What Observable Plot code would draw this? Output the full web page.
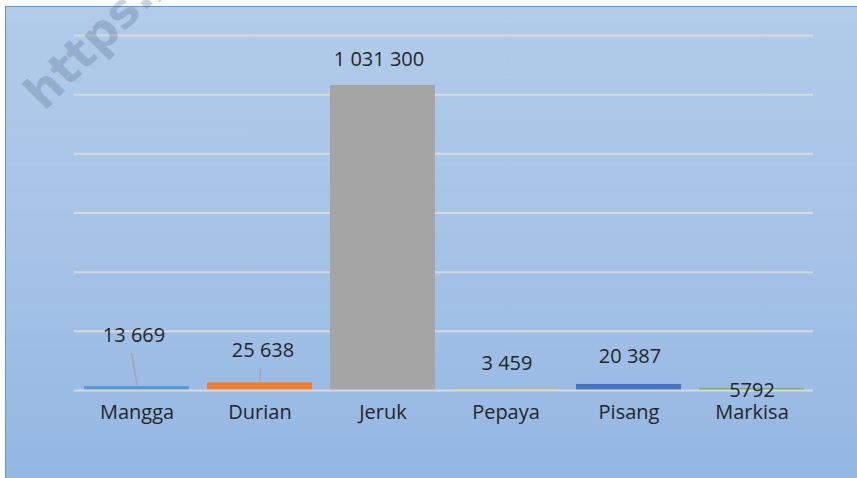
<!DOCTYPE html>
<html>
<head>
<meta charset="utf-8">
<script src="https://cdn.jsdelivr.net/npm/d3@7"></script>
<script src="https://cdn.jsdelivr.net/npm/@observablehq/plot@0.6"></script>
<style>
  html, body { margin: 0; padding: 0; background: #ffffff; }
  #wrap { position: relative; width: 857px; height: 478px; overflow: hidden; }
  #bg { position: absolute; left: 5px; top: 6px; right: 0; bottom: 0;
        border-left: 1px solid #5B9BD5; border-top: 1px solid #5B9BD5;
        background: linear-gradient(to bottom, #B1CBE9 0%, #A6C3E7 50%, #93B7E2 100%); }
  #chart { position: absolute; left: 0; top: 0; }
  #wm { position: absolute; left: 0; top: 0; pointer-events: none; }
</style>
</head>
<body>
<div id="wrap">
  <div id="bg"></div>
  <div id="chart"></div>
  <svg id="wm" width="857" height="478">
    <text x="44" y="112" transform="rotate(-45 44 112)" font-family="DejaVu Sans, sans-serif"
          font-weight="bold" font-size="47" fill="rgba(95,115,145,0.33)">https://...</text>
  </svg>
</div>
<script>
// ---- data ----
const categories = ["Mangga", "Durian", "Jeruk", "Pepaya", "Pisang", "Markisa"];
const values = [13669, 25638, 1031300, 3459, 20387, 5792];
const valueLabels = ["13 669", "25 638", "1 031 300", "3 459", "20 387", "5792"];
const barColors = ["#5B9BD5", "#ED7D31", "#A5A5A5", "#FFC000", "#4472C4", "#70AD47"];
const yTicks = [0, 200000, 400000, 600000, 800000, 1000000, 1200000];

// ---- label styling (manually moved data labels) ----
const labelDy = [-51, -32, -26, -26, -28, 2];
const labelDx = [-3, 3, -4, 1, 1, 0];
const leaderFor = ["Mangga", "Durian"];

const data = categories.map((c, i) => ({cat: c, value: values[i], label: valueLabels[i], color: barColors[i]}));

const textMarks = data.map((d, i) =>
  Plot.text([d], {x: "cat", y: "value", text: "label", dy: labelDy[i], dx: labelDx[i],
    fill: "#262626", fontSize: 20})
);

const plot = Plot.plot({
  width: 857,
  height: 478,
  marginLeft: 74,
  marginRight: 44,
  marginTop: 35,
  marginBottom: 88,
  style: {background: "transparent", fontFamily: "'Open Sans', sans-serif", fontSize: "20px", color: "#262626", overflow: "visible"},
  x: {domain: categories, paddingInner: 0.15, paddingOuter: 0.075, label: null, tickSize: 0, tickPadding: 14},
  y: {domain: [0, 1200000], axis: null},
  color: {type: "identity"},
  marks: [
    Plot.ruleY(yTicks.filter(t => t > 0), {stroke: "#D9D9D9", strokeWidth: 2}),
    Plot.barY(data, {x: "cat", y: "value", fill: "color"}),
    Plot.ruleY([0], {stroke: "#D9D9D9", strokeWidth: 2}),
    ...textMarks
  ]
});

document.getElementById("chart").appendChild(plot);

// leader lines from moved labels to their bars, positioned through Plot's scales
const xs = plot.scale("x");
const ys = plot.scale("y");
const svg = d3.select(plot.tagName.toLowerCase() === "svg" ? plot : plot.querySelector("svg"));
const g = svg.append("g").attr("stroke", "#A6A6A6").attr("stroke-width", 1.5);
data.forEach((d, i) => {
  if (!leaderFor.includes(d.cat)) return;
  const cx = xs.apply(d.cat) + xs.bandwidth / 2;
  const top = ys.apply(d.value);
  const labelY = top + labelDy[i];
  g.append("line")
    .attr("x1", cx + labelDx[i] - 2).attr("y1", labelY + 18)
    .attr("x2", cx + 0.5).attr("y2", top - 1);
});
</script>
</body>
</html>
